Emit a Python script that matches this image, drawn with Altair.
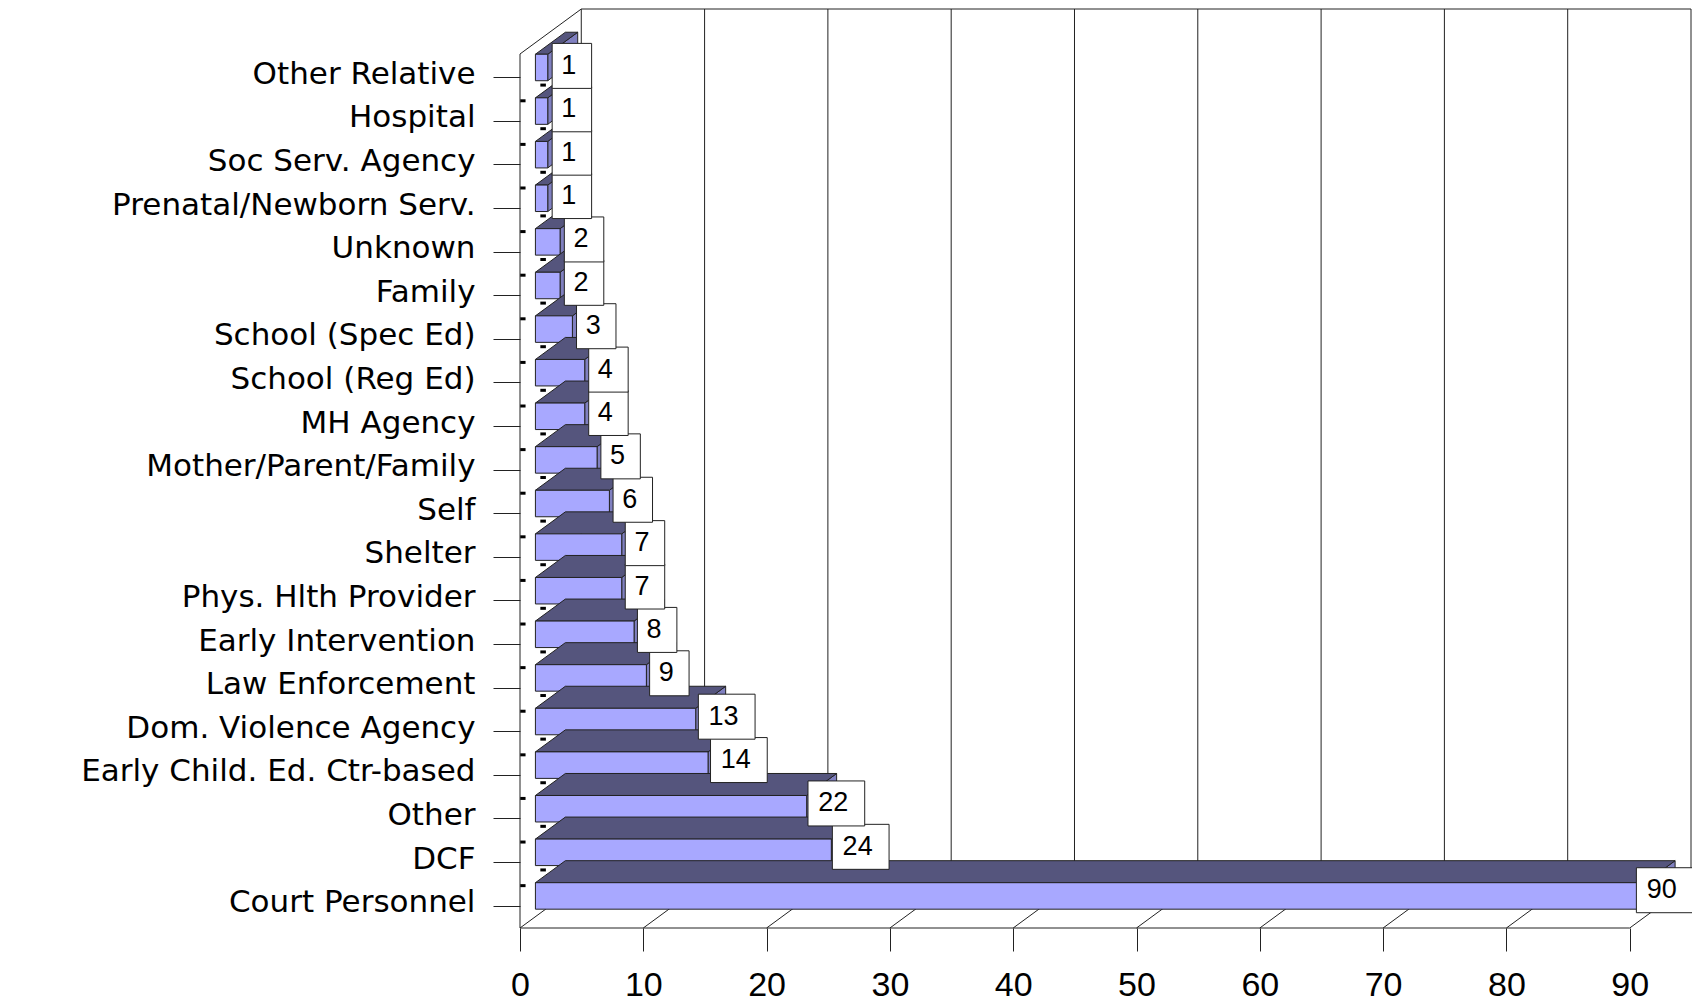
import altair as alt
import pandas as pd

categories = ["Court Personnel", "DCF", "Other", "Early Child. Ed. Ctr-based", "Dom. Violence Agency",
              "Law Enforcement", "Early Intervention", "Phys. Hlth Provider", "Shelter", "Self",
              "Mother/Parent/Family", "MH Agency", "School (Reg Ed)", "School (Spec Ed)", "Family",
              "Unknown", "Prenatal/Newborn Serv.", "Soc Serv. Agency", "Hospital", "Other Relative"]
values = [90, 24, 22, 14, 13, 9, 8, 7, 7, 6, 5, 4, 4, 3, 2, 2, 1, 1, 1, 1]
x_ticks = [0, 10, 20, 30, 40, 50, 60, 70, 80, 90]

# projection constants, in data units of the two scales
XMAX = 94.97
WALL_DX, WALL_DY = XMAX - 90, 1.032
BAR_DX, BAR_DY = 2.43, 0.505
BASE = 1.25
FLOOR, TOP = -0.5115, 20.565
INK = "#222222"
FRONT, UPPER, SIDE = "#A8A8FF", "#55557D", "#8080C0"

XS = alt.Scale(domain=[0, XMAX], nice=False, zero=False)
YS = alt.Scale(domain=[FLOOR, TOP], nice=False, zero=False)
names = "[" + ",".join('"%s"' % c for c in categories) + "]"
X_AXIS = alt.Axis(values=x_ticks, title=None, domain=False, grid=False, ticks=True, tickSize=23,
                  tickColor=INK, labelFont="Liberation Sans", labelFontSize=34, labelColor="#000000",
                  labelPadding=17, labelFlush=False, labelOverlap=False, labelBaseline="top")
Y_AXIS = alt.Axis(values=list(range(len(categories))), title=None, domain=False, grid=False, ticks=True,
                  tickSize=27, tickColor=INK, labelFont="DejaVu Sans", labelFontSize=31, labelColor="#000000",
                  labelPadding=18, labelOffset=-3, labelOverlap=False, labelFlush=False, labelLimit=600,
                  labelExpr=names + "[datum.value]")
X = lambda f="x": alt.X(f"{f}:Q", scale=XS, axis=X_AXIS)
Y = lambda f="y": alt.Y(f"{f}:Q", scale=YS, axis=Y_AXIS)

# walls and floor
seg = []
def add(x, y, x2, y2):
    seg.append({"x": x, "y": y, "x2": x2, "y2": y2})
back_y = FLOOR + WALL_DY
add(0, FLOOR, 0, TOP - WALL_DY)
add(0, TOP - WALL_DY, WALL_DX, TOP)
add(WALL_DX, TOP, XMAX, TOP)
add(0, FLOOR, x_ticks[-1], FLOOR)
add(WALL_DX, back_y, XMAX, back_y)
for t in x_ticks:
    add(t + WALL_DX, back_y, t + WALL_DX, TOP)
    add(t, FLOOR, t + WALL_DX, back_y)
walls = alt.Chart(pd.DataFrame(seg)).mark_rule(color=INK, strokeWidth=1).encode(
    x=X(), y=Y(), x2="x2:Q", y2="y2:Q")

# short wall marks between rows
d = []
for i in range(len(categories) - 1):
    d.append({"x": 0.02, "x2": 0.45, "y": i + 0.46, "y2": i + 0.46})
    d.append({"x": 1.65, "x2": 2.1, "y": i + 0.82, "y2": i + 0.82})
dashes = alt.Chart(pd.DataFrame(d)).mark_rule(color="#000000", strokeWidth=3).encode(
    x=X(), y=Y(), x2="x2:Q", y2="y2:Q")

layers = [walls, dashes]

# bars, drawn from the back row to the front row
for i in reversed(range(len(categories))):
    v = values[i]
    top, bot = i + 0.5275, i - 0.08
    upper = pd.DataFrame({"y": [top, top + BAR_DY],
                          "x": [BASE, BASE + BAR_DX],
                          "x2": [BASE + v, BASE + v + BAR_DX]})
    side = pd.DataFrame({"x": [BASE + v, BASE + v + BAR_DX],
                         "y": [top, top + BAR_DY],
                         "y2": [bot, bot + BAR_DY]})
    front = pd.DataFrame({"x": [BASE], "x2": [BASE + v], "y": [top], "y2": [bot]})
    layers.append(alt.Chart(side).mark_area(orient="vertical", color=SIDE, stroke=INK, strokeWidth=1, opacity=1)
                  .encode(x=X(), y=Y(), y2="y2:Q"))
    layers.append(alt.Chart(upper).mark_area(orient="horizontal", color=UPPER, stroke=INK, strokeWidth=1, opacity=1)
                  .encode(y=Y(), x=X(), x2="x2:Q"))
    layers.append(alt.Chart(front).mark_rect(color=FRONT, stroke=INK, strokeWidth=1, opacity=1)
                  .encode(x=X(), x2="x2:Q", y=Y(), y2="y2:Q"))

# value boxes, later rows cover earlier ones
for i, v in enumerate(values):
    left = 1.62 + v * 0.988
    w = 3.2 if v < 10 else 4.6
    cy = i * 0.995 + 0.355
    box = pd.DataFrame({"x": [left], "x2": [left + w], "y": [cy + 0.516], "y2": [cy - 0.516]})
    lab = pd.DataFrame({"x": [left + w / 2 - 0.25], "y": [cy], "t": [str(v)]})
    layers.append(alt.Chart(box).mark_rect(color="#FFFFFF", stroke="#222222", strokeWidth=1, opacity=1)
                  .encode(x=X(), x2="x2:Q", y=Y(), y2="y2:Q"))
    layers.append(alt.Chart(lab).mark_text(font="Liberation Sans", fontSize=27, color="#000000",
                                           align="center", baseline="middle")
                  .encode(x=X(), y=Y(), text="t:N"))

chart = alt.layer(*layers).properties(
    width=1171, height=919,
    padding={"left": 512, "top": 1, "right": 1, "bottom": 75},
    autosize=alt.AutoSizeParams(type="none"),
    background="#FFFFFF",
).configure_view(stroke=None)

chart.save("out.html", embed_options={"renderer": "svg", "actions": False})
